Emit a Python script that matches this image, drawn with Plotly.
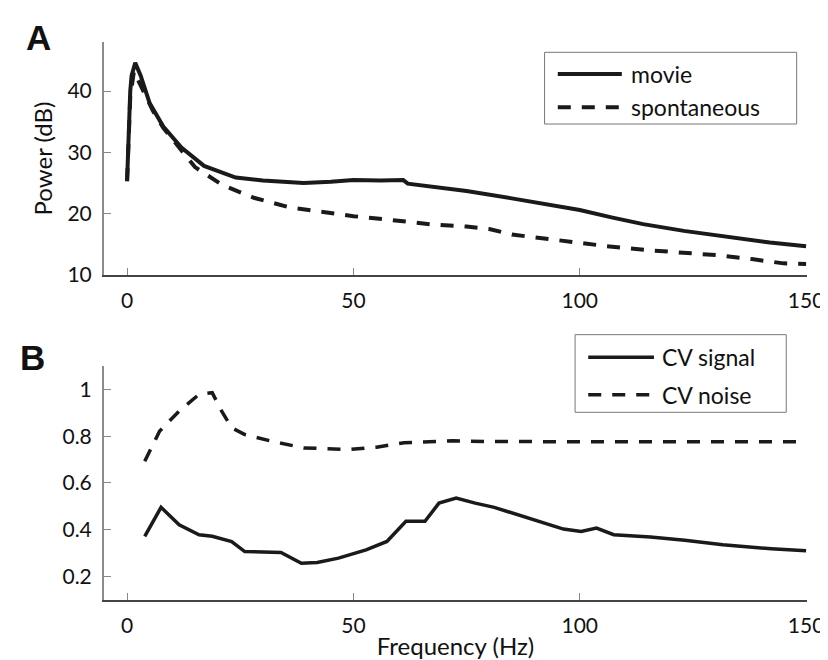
import plotly.graph_objects as go

# ---- Panel A data: power spectra ----
movie_f = [0, 0.35, 0.7, 1.0, 1.8, 3, 5, 8, 12, 17, 24, 30, 39, 45, 50, 56, 61, 62, 68, 75, 85, 93, 100, 107, 114, 123, 135, 142, 150]
movie_db = [25.3, 34.0, 40.0, 42.5, 44.6, 42.5, 38.0, 34.2, 30.8, 27.8, 25.9, 25.4, 25.0, 25.2, 25.5, 25.4, 25.5, 24.9, 24.4, 23.7, 22.5, 21.5, 20.6, 19.4, 18.3, 17.2, 16.0, 15.3, 14.7]

spont_f = [0, 0.35, 0.7, 1.5, 3, 5.7, 8, 12, 15, 21, 28, 36, 43, 50, 58, 68, 75, 80, 85, 96, 106, 116, 124, 131, 138, 145, 150]
spont_db = [25.3, 33.0, 39.0, 43.2, 41.0, 36.8, 34.0, 30.2, 27.6, 24.7, 22.6, 21.0, 20.3, 19.6, 19.0, 18.2, 17.9, 17.5, 16.6, 15.6, 14.7, 14.0, 13.6, 13.2, 12.6, 11.9, 11.8]

# ---- Panel B data: coefficient of variation ----
sig_f = [3.9, 7.5, 11.5, 15.9, 18.8, 23.1, 26, 34, 38.5, 42, 46.7, 52.8, 57.4, 61.6, 65.8, 68.9, 72.7, 76.9, 81.1, 88.8, 96.4, 100.3, 103.7, 107.5, 115.6, 123.2, 131.6, 142.3, 150]
sig_cv = [0.372, 0.496, 0.421, 0.379, 0.372, 0.35, 0.307, 0.303, 0.257, 0.26, 0.279, 0.314, 0.35, 0.436, 0.436, 0.514, 0.536, 0.514, 0.496, 0.45, 0.403, 0.393, 0.407, 0.379, 0.369, 0.355, 0.336, 0.319, 0.31]

noise_f = [3.9, 7.2, 11.5, 15.9, 18.8, 20.9, 23.1, 26, 31.8, 39, 49, 55.1, 61.2, 65.8, 72, 80, 90, 100, 110, 120, 130, 140, 150]
noise_cv = [0.693, 0.822, 0.907, 0.979, 0.986, 0.907, 0.836, 0.807, 0.779, 0.75, 0.743, 0.753, 0.772, 0.775, 0.78, 0.777, 0.776, 0.776, 0.777, 0.776, 0.776, 0.776, 0.776]

x_ticks = [0, 50, 100, 150]
a_ticks = [10, 20, 30, 40]
b_ticks = [0.2, 0.4, 0.6, 0.8, 1.0]
b_ticktext = ["0.2", "0.4", "0.6", "0.8", "1"]

legend_a_names = ["movie", "spontaneous"]
legend_b_names = ["CV signal", "CV noise"]

LINE = "#1a1a1a"
FONT = "Lato"
DASH = "13px,11px"

fig = go.Figure()
fig.add_trace(go.Scatter(x=movie_f, y=movie_db, mode="lines", name=legend_a_names[0],
                         line=dict(color=LINE, width=4), xaxis="x", yaxis="y"))
fig.add_trace(go.Scatter(x=spont_f, y=spont_db, mode="lines", name=legend_a_names[1],
                         line=dict(color=LINE, width=4, dash=DASH), xaxis="x", yaxis="y"))
fig.add_trace(go.Scatter(x=sig_f, y=sig_cv, mode="lines", name=legend_b_names[0],
                         line=dict(color=LINE, width=3.5), xaxis="x2", yaxis="y2"))
fig.add_trace(go.Scatter(x=noise_f, y=noise_cv, mode="lines", name=legend_b_names[1],
                         line=dict(color=LINE, width=3.5, dash=DASH), xaxis="x2", yaxis="y2"))

xcommon = dict(range=[-5.1, 150.2], tickvals=x_ticks, showline=True, linecolor="#444444", linewidth=1.5,
               ticks="inside", ticklen=7, tickcolor="#888888", tickwidth=1, showgrid=False, zeroline=False,
               ticklabelstandoff=6, tickfont=dict(size=21, color="#111111"))
ycommon = dict(showline=True, linecolor="#8c8c8c", linewidth=2, ticks="inside", ticklen=7,
               tickcolor="#888888", tickwidth=1, showgrid=False, zeroline=False,
               ticklabelstandoff=6, tickfont=dict(size=21, color="#111111"))

# ---- hand-drawn legend boxes (paper coordinates) ----
shapes = []
annotations = []

def add_legend(box, line_x, rows_y, text_x, names, width):
    shapes.append(dict(type="rect", xref="paper", yref="paper", x0=box[0], x1=box[1], y0=box[2], y1=box[3],
                       line=dict(color="#777777", width=1), fillcolor="white", layer="above"))
    for i, (yy, nm) in enumerate(zip(rows_y, names)):
        shapes.append(dict(type="line", xref="paper", yref="paper", x0=line_x[0], x1=line_x[1], y0=yy, y1=yy,
                           line=dict(color=LINE, width=width, dash=None if i == 0 else DASH), layer="above"))
        annotations.append(dict(text=nm, x=text_x, y=yy, xref="paper", yref="paper", showarrow=False,
                                xanchor="left", yanchor="middle", font=dict(family=FONT, size=23, color="#111111")))

add_legend((0.6267, 0.9853, 0.853, 0.9815), (0.6455, 0.7366), (0.9427, 0.8830), 0.7463, legend_a_names, 4)
add_legend((0.6701, 0.9705, 0.3364, 0.4755), (0.6888, 0.7823), (0.4349, 0.3679), 0.7907, legend_b_names, 3.5)

annotations += [
    dict(text="<b>A</b>", x=-0.114, y=1.008, xref="paper", yref="paper", showarrow=False,
         xanchor="left", yanchor="middle", font=dict(family="Liberation Sans", size=35, color="#111111")),
    dict(text="<b>B</b>", x=-0.123, y=0.4337, xref="paper", yref="paper", showarrow=False,
         xanchor="left", yanchor="middle", font=dict(family="Liberation Sans", size=35, color="#111111")),
]

fig.update_layout(
    width=828, height=660,
    margin=dict(l=96, r=24, t=34, b=68),
    paper_bgcolor="white", plot_bgcolor="white",
    font=dict(family=FONT, size=21, color="#111111"),
    showlegend=False,
    xaxis=dict(domain=[0, 1], anchor="y", **xcommon),
    yaxis=dict(domain=[0.5824, 1], anchor="x", range=[10, 48], tickvals=a_ticks,
               title=dict(text="Power (dB)", font=dict(size=24), standoff=8), **ycommon),
    xaxis2=dict(domain=[0, 1], anchor="y2", title=dict(text="Frequency (Hz)", font=dict(size=24), standoff=2), **xcommon),
    yaxis2=dict(domain=[0, 0.4194], anchor="x2", range=[0.1, 1.1], tickvals=b_ticks, ticktext=b_ticktext, **ycommon),
    shapes=shapes,
    annotations=annotations,
)

fig.write_html("out.html")
